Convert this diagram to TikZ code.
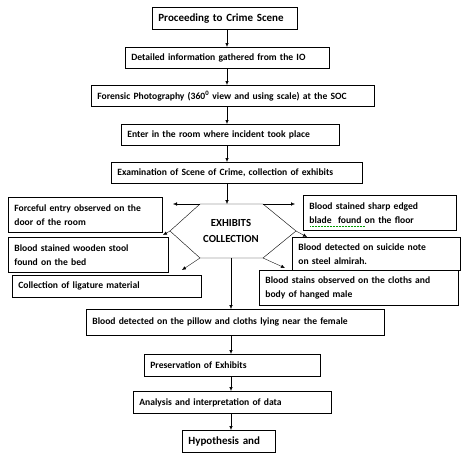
\documentclass[tikz,border=0pt]{standalone}
\usepackage{fontspec}
\setmainfont{Carlito}
\usetikzlibrary{arrows.meta}
\tikzset{
  box/.style={draw=black, line width=0.75pt, anchor=north west, align=left,
    inner xsep=6pt, inner ysep=0pt, font=\bfseries\fontsize{9.6}{14}\selectfont},
  bigbox/.style={box, font=\bfseries\fontsize{11}{13}\selectfont},
  arr/.style={-{Latex[length=4pt,width=3.4pt]}, line width=0.6pt},
  thinarr/.style={-{Latex[length=4pt,width=3.4pt]}, line width=0.35pt},
  hex/.style={draw=black, line width=0.4pt}
}
\begin{document}
\begin{tikzpicture}[x=1pt,y=-1pt]
\useasboundingbox (0,0) rectangle (463,463);
% main chain
\node[bigbox, text width=133pt, minimum height=22pt] (p1) at (152,7) {Proceeding to Crime Scene};
\node[box, text width=192pt, minimum height=21pt] (p2) at (125,47) {Detailed information gathered from the IO};
\node[box, text width=271pt, minimum height=21pt] (p3) at (91,85) {Forensic Photography (360\textsuperscript{0} view and using scale) at the SOC};
\node[box, text width=206pt, minimum height=21pt] (p4) at (121,124) {Enter in the room where incident took place};
\node[box, text width=239pt, minimum height=21pt] (p5) at (111,162) {Examination of Scene of Crime, collection of exhibits};
% side boxes
\node[box, text width=142pt, minimum height=35pt] (b1) at (8,197) {Forceful entry observed on the\\door of the room};
\node[box, text width=141pt, minimum height=35pt] (b2) at (303,195) {Blood stained sharp edged\\blade\ \ found on the floor};
\node[box, text width=148pt, minimum height=35pt] (b3) at (8,237) {Blood stained wooden stool\\found on the bed};
\node[box, text width=156pt, minimum height=33pt] (b4) at (292,237) {Blood detected on suicide note\\on steel almirah.};
\node[box, text width=177pt, minimum height=22pt] (b5) at (12,275) {Collection of ligature material};
\node[box, fill=white, text width=187pt, minimum height=35pt] (b6) at (259,270) {Blood stains observed on the cloths and\\body of hanged male};
% lower chain
\node[box, text width=286pt, minimum height=26pt] (q1) at (86,309) {Blood detected on the pillow and cloths lying near the female};
\node[box, text width=164pt, minimum height=22pt] (q2) at (144,354) {Preservation of Exhibits};
\node[box, text width=186pt, minimum height=22pt] (q3) at (133,391) {Analysis and interpretation of data};
\node[bigbox, text width=81pt, minimum height=22pt] (q4) at (182,430) {Hypothesis and};
% hexagon
\coordinate (hA) at (200,204);
\coordinate (hB) at (263,204);
\coordinate (hC) at (296,231);
\coordinate (hD) at (263,258);
\coordinate (hE) at (200,258);
\coordinate (hF) at (170,231);
\coordinate (hBot) at (231,258);
\draw[hex] (hA) -- (hB) -- (hC) -- (hD) -- (hE) -- (hF) -- cycle;
\node[align=center, font=\bfseries\fontsize{10.8}{16}\selectfont] (hx) at (231,231) {EXHIBITS\\COLLECTION};
% free ends
\coordinate (eL) at (173,204);
\coordinate (eR) at (295,204);
\coordinate (e3) at (163,235);
\coordinate (e4) at (307,237);
\coordinate (e5) at (182,270);
\coordinate (e6) at (285,268);
\coordinate (eTop) at (227,204);
\coordinate (eBot) at (231,309);
% chain arrows
\draw[arr] (p1.south -| 227,0) -- (p2.north -| 227,0);
\draw[arr] (p2.south -| 227,0) -- (p3.north -| 227,0);
\draw[arr] (p3.south -| 227,0) -- (p4.north -| 227,0);
\draw[arr] (p4.south -| 227,0) -- (p5.north -| 227,0);
\draw[thinarr] (p5.south -| 227,0) -- (eTop);
\draw[thinarr] (hA) -- (eL);
\draw[thinarr] (hB) -- (eR);
\draw[thinarr] (hF) -- (e3);
\draw[thinarr] (hC) -- (e4);
\draw[thinarr] (hE) -- (e5);
\draw[thinarr] (hD) -- (e6);
\draw[thinarr] (hBot) -- (eBot);
\draw[arr] (q1.south -| 231,0) -- (q2.north -| 231,0);
\draw[arr] (q2.south -| 231,0) -- (q3.north -| 231,0);
\draw[arr] (q3.south -| 231,0) -- (q4.north -| 231,0);
% spell-check underline
\draw[green!60!black, densely dotted, line width=0.5pt] (310,226) -- (365,226);
\end{tikzpicture}
\end{document}
